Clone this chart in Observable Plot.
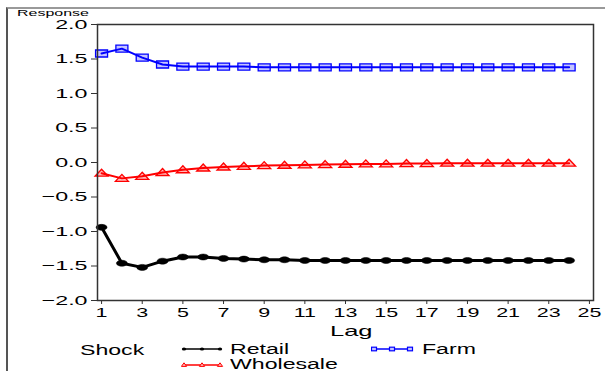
<!DOCTYPE html>
<html><head><meta charset="utf-8">
<script src="https://cdn.jsdelivr.net/npm/d3@7"></script>
<script src="https://cdn.jsdelivr.net/npm/@observablehq/plot@0.6"></script>
<style>
body{margin:0;background:#fff;font-family:"Liberation Sans",Arial,sans-serif;}
#wrap{position:relative;width:605px;height:371px;overflow:hidden;}
#border{position:absolute;left:6px;top:7px;width:700px;height:400px;border-left:2px solid #555;border-top:2px solid #999;}
.t{position:absolute;line-height:1;white-space:nowrap;color:#000;transform-origin:0 50%;}
.lg{position:absolute;}
</style></head>
<body><div id="wrap"><div id="border"></div></div>
<script>
const lags = [1,2,3,4,5,6,7,8,9,10,11,12,13,14,15,16,17,18,19,20,21,22,23,24];
const retail = [-0.94,-1.46,-1.52,-1.43,-1.37,-1.37,-1.39,-1.40,-1.41,-1.41,-1.42,-1.42,-1.42,-1.42,-1.42,-1.42,-1.42,-1.42,-1.42,-1.42,-1.42,-1.42,-1.42,-1.42];
const farm = [1.58,1.65,1.52,1.42,1.39,1.39,1.39,1.39,1.38,1.38,1.38,1.38,1.38,1.38,1.38,1.38,1.38,1.38,1.38,1.38,1.38,1.38,1.38,1.38];
const wholesale = [-0.155,-0.23,-0.20,-0.145,-0.105,-0.08,-0.065,-0.055,-0.045,-0.04,-0.035,-0.03,-0.025,-0.02,-0.02,-0.015,-0.015,-0.01,-0.01,-0.01,-0.01,-0.01,-0.01,-0.01];
const xTicks = [1,3,5,7,9,11,13,15,17,19,21,23,25];
const yTicks = [-2,-1.5,-1,-0.5,0,0.5,1,1.5,2];
const series = ["Retail","Wholesale","Farm"];

const rows = s => lags.map((l,i)=>({lag:l, v:{Retail:retail,Wholesale:wholesale,Farm:farm}[s][i]}));

const K = 0.5523;
const ellipse = {draw(c){const rx=5.5, ry=3; c.moveTo(rx,0);
  c.bezierCurveTo(rx,ry*K,rx*K,ry,0,ry); c.bezierCurveTo(-rx*K,ry,-rx,ry*K,-rx,0);
  c.bezierCurveTo(-rx,-ry*K,-rx*K,-ry,0,-ry); c.bezierCurveTo(rx*K,-ry,rx,-ry*K,rx,0); c.closePath();}};
const wideSquare = {draw(c){c.rect(-6,-3.5,12,7);}};
const wideTri = {draw(c){c.moveTo(0,-4); c.lineTo(6.5,3); c.lineTo(-6.5,3); c.closePath();}};

const svg = Plot.plot({
  width:605, height:340, marginLeft:97, marginRight:12, marginTop:24, marginBottom:40,
  x:{domain:[0.8,25.2]}, y:{domain:[-2,2]},
  style:{fontFamily:'"Liberation Sans",Arial,sans-serif', background:"transparent", color:"#000"},
  marks:[
    Plot.axisY({ticks:yTicks, tickSize:6, tickPadding:4, tickFormat:d3.format(".1f"), fontSize:13.5, label:null, stroke:"#333"}),
    Plot.axisX({ticks:xTicks, tickSize:4, tickPadding:4, fontSize:12.5, label:null, stroke:"#333"}),
    Plot.line(rows("Retail"), {x:"lag", y:"v", stroke:"#000", strokeWidth:3}),
    Plot.dot(rows("Retail"), {x:"lag", y:"v", symbol:ellipse, fill:"#000", stroke:"#000", strokeWidth:0.5}),
    Plot.dot(rows("Wholesale"), {x:"lag", y:"v", symbol:wideTri, fill:"#ffb8b8", stroke:"#ff0000", strokeWidth:1.3}),
    Plot.line(rows("Wholesale"), {x:"lag", y:"v", stroke:"#ff0000", strokeWidth:2}),
    Plot.dot(rows("Farm"), {x:"lag", y:"v", symbol:wideSquare, fill:"#c4c4ff", stroke:"#0000ff", strokeWidth:1.3}),
    Plot.line(rows("Farm"), {x:"lag", y:"v", stroke:"#0000ff", strokeWidth:2}),
    Plot.frame({stroke:"#333", strokeWidth:1.5})
  ]
});
svg.style.position="absolute"; svg.style.left="0"; svg.style.top="0";
const SX = 1.72;
svg.querySelectorAll('g[aria-label$="tick label"] text').forEach(t=>{
  const tr = t.getAttribute("transform")||"";
  const x = +(t.getAttribute("x")||0);
  if (x) t.setAttribute("x", x/SX);
  t.setAttribute("transform", tr+` scale(${SX},1)`);
});
const wrap = document.getElementById("wrap");
wrap.appendChild(svg);

function addText(str, left, cy, size, sx, center){
  const s=document.createElement("span"); s.className="t"; s.textContent=str;
  s.style.fontSize=size+"px"; s.style.top=(cy-size/2)+"px";
  if(center){ s.style.left=left+"px"; s.style.visibility="hidden"; wrap.appendChild(s); const w=s.getBoundingClientRect().width; 
    s.style.left=(left - w*sx/2)+"px"; s.style.transform=`scaleX(${sx})`; s.style.visibility="visible"; return;}
  s.style.left=left+"px"; s.style.transform=`scaleX(${sx})`; wrap.appendChild(s);
}
addText("Response", 17, 12.5, 9.5, 1.68);
addText("Lag", 351, 330, 15, 1.7, true);
addText("Shock", 80, 350, 14, 1.65);
addText("Retail", 230, 349, 14, 1.65);
addText("Farm", 422, 349, 14, 1.65);
addText("Wholesale", 230, 363.5, 14, 1.65);

const NS="http://www.w3.org/2000/svg";
function swatch(left, cy, color, kind){
  const g=document.createElementNS(NS,"svg"); g.setAttribute("width",44); g.setAttribute("height",10);
  g.setAttribute("class","lg"); g.style.left=left+"px"; g.style.top=(cy-5)+"px";
  const l=document.createElementNS(NS,"line"); l.setAttribute("x1",2); l.setAttribute("x2",40); l.setAttribute("y1",5); l.setAttribute("y2",5);
  l.setAttribute("stroke",color); l.setAttribute("stroke-width",1.3); g.appendChild(l);
  [3,21,39].forEach(x=>{
    let m;
    if(kind==="c"){ m=document.createElementNS(NS,"ellipse"); m.setAttribute("cx",x); m.setAttribute("cy",5); m.setAttribute("rx",2.2); m.setAttribute("ry",1.6); m.setAttribute("fill",color);}
    else if(kind==="s"){ m=document.createElementNS(NS,"rect"); m.setAttribute("x",x-2.5); m.setAttribute("y",3.2); m.setAttribute("width",5); m.setAttribute("height",3.6); m.setAttribute("fill","#c4c4ff"); m.setAttribute("stroke",color); m.setAttribute("stroke-width",1.2);}
    else { m=document.createElementNS(NS,"path"); m.setAttribute("d",`M${x},2.8L${x+2.6},6.4L${x-2.6},6.4Z`); m.setAttribute("fill","#ffb8b8"); m.setAttribute("stroke",color); m.setAttribute("stroke-width",1);}
    g.appendChild(m);
  });
  wrap.appendChild(g);
}
swatch(181, 349, "#000", "c");
swatch(371, 349, "#0000ff", "s");
swatch(181, 364.5, "#ff0000", "t");
</script></body></html>
